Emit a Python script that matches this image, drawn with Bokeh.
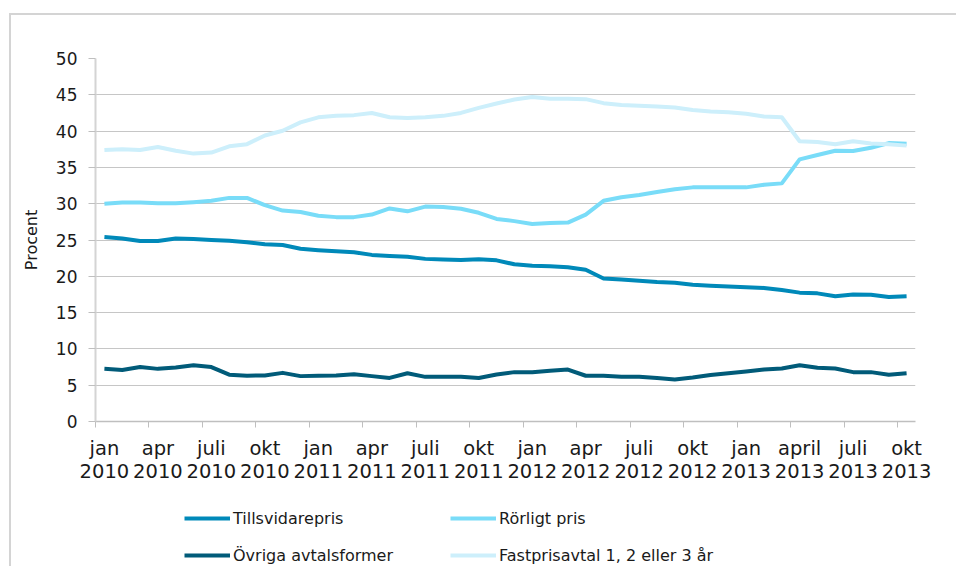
import numpy as np
from bokeh.plotting import figure
from bokeh.layouts import column
from bokeh.models import FixedTicker, Legend, LegendItem, Range1d, ColumnDataSource
from bokeh.embed import file_html
from bokeh.resources import INLINE

# Monthly data jan 2010 - okt 2013 (46 months)
tillsvidare = [25.4, 25.2, 24.85, 24.85, 25.2, 25.15, 25.0, 24.9, 24.7, 24.4, 24.3, 23.8,
               23.6, 23.45, 23.3, 22.95, 22.8, 22.7, 22.4, 22.3, 22.25, 22.35, 22.2, 21.65,
               21.45, 21.4, 21.25, 20.9, 19.7, 19.55, 19.4, 19.2, 19.1, 18.85, 18.7, 18.6,
               18.5, 18.4, 18.1, 17.75, 17.65, 17.25, 17.5, 17.45, 17.15, 17.25]
rorligt = [30.0, 30.15, 30.15, 30.05, 30.05, 30.2, 30.4, 30.8, 30.8, 29.8, 29.05, 28.85,
           28.35, 28.15, 28.15, 28.5, 29.35, 28.95, 29.6, 29.55, 29.3, 28.75, 27.9, 27.6,
           27.2, 27.35, 27.4, 28.5, 30.4, 30.9, 31.2, 31.6, 32.0, 32.25, 32.25, 32.25,
           32.25, 32.6, 32.8, 36.1, 36.7, 37.3, 37.25, 37.7, 38.35, 38.25]
ovriga = [7.25, 7.1, 7.5, 7.25, 7.45, 7.75, 7.5, 6.45, 6.3, 6.35, 6.7, 6.25,
          6.3, 6.35, 6.5, 6.25, 6.0, 6.65, 6.15, 6.15, 6.15, 6.0, 6.47, 6.8,
          6.8, 7.0, 7.15, 6.3, 6.3, 6.15, 6.15, 6.0, 5.8, 6.05, 6.4, 6.65,
          6.9, 7.15, 7.3, 7.75, 7.4, 7.3, 6.8, 6.8, 6.45, 6.65]
fastpris = [37.4, 37.5, 37.4, 37.8, 37.3, 36.9, 37.05, 37.9, 38.2, 39.4, 40.05, 41.2,
            41.9, 42.1, 42.2, 42.5, 41.9, 41.8, 41.9, 42.1, 42.5, 43.2, 43.8, 44.35,
            44.7, 44.45, 44.45, 44.4, 43.85, 43.6, 43.5, 43.4, 43.25, 42.9, 42.7, 42.6,
            42.4, 42.0, 41.9, 38.6, 38.5, 38.2, 38.6, 38.3, 38.2, 38.0]

tick_labels = ["jan\n2010", "apr\n2010", "juli\n2010", "okt\n2010",
               "jan\n2011", "apr\n2011", "juli\n2011", "okt\n2011",
               "jan\n2012", "apr\n2012", "juli\n2012", "okt\n2012",
               "jan\n2013", "april\n2013", "juli\n2013", "okt\n2013"]
series_names = ["Tillsvidarepris", "Rörligt pris", "Övriga avtalsformer", "Fastprisavtal 1, 2 eller 3 år"]
series_colors = ["#0089b9", "#79dcf8", "#015b79", "#cdeffb"]
y_ticks = [0, 5, 10, 15, 20, 25, 30, 35, 40, 45, 50]

n = len(tillsvidare)
x = np.arange(n) + 0.5
src = ColumnDataSource(dict(x=x, t=tillsvidare, r=rorligt, o=ovriga, f=fastpris))
cols = ["t", "r", "o", "f"]

FONT = "DejaVu Sans"

p = figure(width=945, height=476, output_backend="svg", toolbar_location=None,
           x_range=Range1d(0, n), y_range=Range1d(0, 50),
           min_border_left=84, min_border_right=41, min_border_top=43, min_border_bottom=70)
p.outline_line_color = None
p.background_fill_color = "white"

label_pos = [float(i) + 0.5 for i in range(0, n, 3)]
p.xaxis.ticker = FixedTicker(ticks=label_pos, minor_ticks=[float(i) for i in range(0, n, 3)])
p.xaxis.major_label_overrides = {lp: lab for lp, lab in zip(label_pos, tick_labels)}
p.xaxis.major_tick_line_color = None
p.xaxis.minor_tick_line_color = "#bfbfbf"
p.xaxis.minor_tick_out = 6
p.xaxis.minor_tick_in = 0
p.xaxis.axis_line_color = "#bfbfbf"
p.xaxis.axis_line_width = 1.5
p.xaxis.major_label_text_font = FONT
p.xaxis.major_label_text_font_size = "19.5px"
p.xaxis.major_label_text_line_height = 1.0
p.xaxis.major_label_text_color = "#1a1a1a"
p.xaxis.major_label_standoff = 9

p.yaxis.ticker = FixedTicker(ticks=y_ticks)
p.yaxis.minor_tick_line_color = None
p.yaxis.major_tick_line_color = "#bfbfbf"
p.yaxis.major_tick_out = 7
p.yaxis.major_tick_in = 0
p.yaxis.axis_line_color = "#d4d4d4"
p.yaxis.axis_line_width = 2
p.yaxis.major_label_text_font = FONT
p.yaxis.major_label_text_font_size = "17px"
p.yaxis.major_label_text_color = "#1a1a1a"
p.yaxis.major_label_standoff = 11
p.yaxis.axis_label = "Procent"
p.yaxis.axis_label_text_font = FONT
p.yaxis.axis_label_text_font_style = "normal"
p.yaxis.axis_label_text_font_size = "16px"
p.yaxis.axis_label_text_color = "#1a1a1a"
p.yaxis.axis_label_standoff = 12

p.xgrid.visible = False
p.ygrid.ticker = FixedTicker(ticks=y_ticks)
p.ygrid.grid_line_color = "#c6c6c6"
p.ygrid.grid_line_width = 1.2

for c, col in zip(cols, series_colors):
    p.line("x", c, source=src, line_color=col, line_width=4, line_join="round")

# Legend figure below (same series, range chosen so only the legend shows)
lf = figure(width=945, height=75, output_backend="svg", toolbar_location=None,
            x_range=Range1d(0, n), y_range=Range1d(100, 110),
            x_axis_location=None, y_axis_location=None,
            min_border_left=0, min_border_right=0, min_border_top=0, min_border_bottom=0)
lf.outline_line_color = None
lf.xgrid.visible = False
lf.ygrid.visible = False
leg_renderers = []
for c, col in zip(cols, series_colors):
    leg_renderers.append(lf.line("x", c, source=src, line_color=col, line_width=4))

# legend fills column by column: order so rows read as in the reference
order = [0, 2, 1, 3]
legend = Legend(items=[LegendItem(label=series_names[k], renderers=[leg_renderers[k]]) for k in order],
                location=(89, 1), ncols=2)
legend.glyph_width = 46
legend.glyph_height = 20
legend.label_standoff = 3
legend.label_height = 20
legend.label_width = 200
legend.spacing = 17
legend.padding = 0
legend.margin = 0
legend.border_line_color = None
legend.background_fill_alpha = 0
legend.label_text_font = FONT
legend.label_text_font_size = "16px"
legend.label_text_color = "#1a1a1a"
lf.add_layout(legend, "center")

layout = column(p, lf, spacing=0)
layout.styles = {"margin-top": "13px", "margin-left": "9px",
                 "border-left": "2px solid #d4d4d4", "border-top": "2px solid #d4d4d4"}

open("out.html", "w").write(file_html(layout, INLINE))
